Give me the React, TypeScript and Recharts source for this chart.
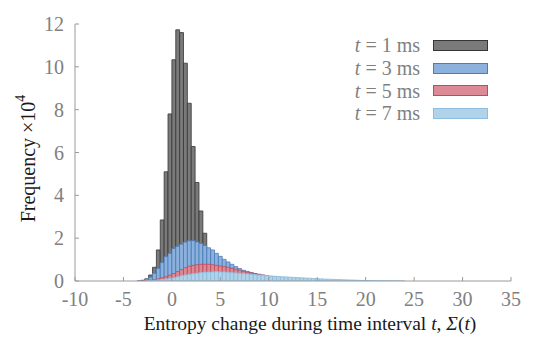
import React from 'react';
import { BarChart, Bar, XAxis, YAxis, Legend, Label } from 'recharts';

const BIN_WIDTH = 0.4;
const BIN_STARTS = [
  -3.6, -3.2, -2.8, -2.4, -2.0, -1.6, -1.2, -0.8, -0.4, 0,
  0.4, 0.8, 1.2, 1.6, 2.0, 2.4, 2.8, 3.2, 3.6, 4.0,
  4.4, 4.8, 5.2, 5.6, 6.0, 6.4, 6.8, 7.2, 7.6, 8.0,
  8.4, 8.8, 9.2, 9.6, 10.0, 10.4, 10.8, 11.2, 11.6, 12.0,
  12.4, 12.8, 13.2, 13.6, 14.0, 14.4, 14.8, 15.2, 15.6, 16.0,
  16.4, 16.8, 17.2, 17.6, 18.0, 18.4, 18.8, 19.2, 19.6, 20.0,
  20.4, 20.8, 21.2, 21.6, 22.0, 22.4, 22.8, 23.2, 23.6,
];

// Frequency (x10^4) per bin, t = 1 ms
const T1 = [
  0, 0.03, 0.1, 0.28, 0.64, 1.45, 2.85, 5.1, 7.8, 10.33,
  11.73, 11.6, 10.17, 8.3, 6.28, 4.6, 3.27, 2.23, 1.45, 0.95,
  0.6, 0.38, 0.23, 0.14, 0.08, 0.05, 0.03, 0.02, 0.01, 0,
  0, 0, 0, 0, 0, 0, 0, 0, 0, 0,
  0, 0, 0, 0, 0, 0, 0, 0, 0, 0,
  0, 0, 0, 0, 0, 0, 0, 0, 0, 0,
  0, 0, 0, 0, 0, 0, 0, 0, 0,
];
// t = 3 ms
const T3 = [
  0.01, 0.03, 0.09, 0.17, 0.36, 0.59, 0.86, 1.14, 1.29, 1.52,
  1.62, 1.72, 1.82, 1.88, 1.88, 1.82, 1.75, 1.66, 1.55, 1.45,
  1.29, 1.15, 1.01, 0.89, 0.78, 0.67, 0.58, 0.5, 0.45, 0.4,
  0.35, 0.31, 0.27, 0.23, 0.2, 0.17, 0.14, 0.12, 0.1, 0.08,
  0.07, 0.06, 0.05, 0.04, 0.03, 0.02, 0.02, 0.01, 0.01, 0,
  0, 0, 0, 0, 0, 0, 0, 0, 0, 0,
  0, 0, 0, 0, 0, 0, 0, 0, 0,
];
// t = 5 ms
const T5 = [
  0, 0.01, 0.02, 0.04, 0.06, 0.1, 0.15, 0.2, 0.27, 0.35,
  0.44, 0.53, 0.62, 0.69, 0.73, 0.76, 0.78, 0.78, 0.78, 0.76,
  0.73, 0.7, 0.67, 0.64, 0.59, 0.55, 0.5, 0.45, 0.41, 0.38,
  0.34, 0.31, 0.28, 0.25, 0.22, 0.2, 0.17, 0.15, 0.13, 0.11,
  0.1, 0.08, 0.07, 0.06, 0.05, 0.04, 0.035, 0.03, 0.025, 0.02,
  0.015, 0.012, 0.01, 0.008, 0.006, 0.005, 0.004, 0.003, 0.002, 0.001,
  0, 0, 0, 0, 0, 0, 0, 0, 0,
];
// t = 7 ms
const T7 = [
  0, 0, 0.01, 0.02, 0.03, 0.05, 0.07, 0.09, 0.12, 0.15,
  0.19, 0.24, 0.28, 0.31, 0.34, 0.36, 0.39, 0.41, 0.42, 0.42,
  0.44, 0.42, 0.42, 0.41, 0.39, 0.38, 0.36, 0.34, 0.33, 0.31,
  0.3, 0.28, 0.27, 0.25, 0.23, 0.22, 0.21, 0.2, 0.19, 0.18,
  0.17, 0.16, 0.15, 0.14, 0.13, 0.12, 0.11, 0.1, 0.09, 0.085,
  0.08, 0.07, 0.065, 0.055, 0.05, 0.045, 0.04, 0.03, 0.025, 0.02,
  0.018, 0.015, 0.013, 0.011, 0.009, 0.007, 0.006, 0.004, 0.003,
];

const X_TICKS = [-10, -5, 0, 5, 10, 15, 20, 25, 30, 35];
const Y_TICKS = [0, 2, 4, 6, 8, 10, 12];
const X_DOMAIN: [number, number] = [-10, 35];
const Y_DOMAIN: [number, number] = [0, 12];

const SERIES = [
  { key: 't1', ms: 1, fill: '#7a7a7a', stroke: '#363636' },
  { key: 't3', ms: 3, fill: '#8db1dd', stroke: '#4a7ebb' },
  { key: 't5', ms: 5, fill: '#dc8a95', stroke: '#c24a5a' },
  { key: 't7', ms: 7, fill: '#b0d3ea', stroke: '#8ebde0' },
];

const data = BIN_STARTS.map((s, i) => ({
  x: Math.round((s + BIN_WIDTH / 2) * 100) / 100,
  t1: T1[i],
  t3: T3[i],
  t5: T5[i],
  t7: T7[i],
}));

const W = 545;
const H = 354;
const MARGIN = { top: 24, right: 34, bottom: 43, left: 30 };
const Y_AXIS_W = 45;
const X_AXIS_H = 30;
const PLOT_W = W - MARGIN.left - MARGIN.right - Y_AXIS_W;
// slightly under the band size so Recharts keeps the exact size (no fallback)
const BAR_SIZE = (BIN_WIDTH * PLOT_W) / (X_DOMAIN[1] - X_DOMAIN[0]) - 0.02;

const FONT = "'Liberation Serif', serif";
const AXIS_COLOR = '#9a9a9a';
const TICK_STYLE = { fill: '#808080', fontSize: 20, fontFamily: FONT };

const renderLegend = () => (
  <div style={{ fontFamily: FONT, fontSize: 20, color: '#808080' }}>
    {SERIES.map((s) => (
      <div
        key={s.key}
        style={{ display: 'flex', alignItems: 'center', height: 22.8, lineHeight: '22.8px' }}
      >
        <div style={{ width: 90, textAlign: 'right', whiteSpace: 'nowrap' }}>
          <i>t</i> = {s.ms} ms
        </div>
        <div
          style={{
            width: 55,
            height: 11,
            marginLeft: 13,
            background: s.fill,
            border: `1px solid ${s.stroke}`,
            boxSizing: 'border-box',
          }}
        />
      </div>
    ))}
  </div>
);

const YLabel = (props: any) => {
  const vb = props.viewBox || {};
  const cx = vb.x - 2;
  const cy = vb.y + vb.height / 2 + 6;
  return (
    <text
      x={cx}
      y={cy}
      transform={`rotate(-90, ${cx}, ${cy})`}
      textAnchor="middle"
      dominantBaseline="central"
      fontFamily={FONT}
      fontSize={20}
      fill="#1a1a1a"
    >
      Frequency ×10<tspan dy={-8} fontSize={14}>4</tspan>
    </text>
  );
};

const XLabel = (props: any) => {
  const vb = props.viewBox || {};
  const cx = vb.x + vb.width / 2 + 17;
  const cy = vb.y + 42;
  return (
    <text
      x={cx}
      y={cy}
      textAnchor="middle"
      dominantBaseline="central"
      fontFamily={FONT}
      fontSize={19.5}
      fill="#1a1a1a"
    >
      Entropy change during time interval <tspan fontStyle="italic">t</tspan>,{' '}
      <tspan fontStyle="italic">Σ</tspan>(<tspan fontStyle="italic">t</tspan>)
    </text>
  );
};

const NoTick = () => <g />;

export default function App() {
  return (
    <div style={{ position: 'absolute', left: 0, top: 0, background: '#fff' }}>
      <BarChart
        width={W}
        height={H}
        data={data}
        margin={MARGIN}
        barSize={BAR_SIZE}
        barGap={-BAR_SIZE}
        barCategoryGap={0}
      >
        <XAxis
          dataKey="x"
          type="number"
          domain={X_DOMAIN}
          ticks={X_TICKS}
          allowDataOverflow
          interval={0}
          height={X_AXIS_H}
          tickSize={-4}
          tickMargin={15}
          stroke={AXIS_COLOR}
          tick={TICK_STYLE}
        >
          <Label content={<XLabel />} />
        </XAxis>
        <XAxis
          xAxisId="top"
          orientation="top"
          dataKey="x"
          type="number"
          domain={X_DOMAIN}
          ticks={X_TICKS}
          allowDataOverflow
          interval={0}
          height={0}
          tickSize={-4}
          stroke={AXIS_COLOR}
          tick={<NoTick />}
        />
        <YAxis
          type="number"
          domain={Y_DOMAIN}
          ticks={Y_TICKS}
          allowDataOverflow
          interval={0}
          width={Y_AXIS_W}
          tickSize={-4}
          tickMargin={15}
          stroke={AXIS_COLOR}
          tick={TICK_STYLE}
        >
          <Label content={<YLabel />} />
        </YAxis>
        <YAxis
          yAxisId="right"
          orientation="right"
          type="number"
          domain={Y_DOMAIN}
          ticks={Y_TICKS}
          allowDataOverflow
          interval={0}
          width={0}
          tickSize={-4}
          stroke={AXIS_COLOR}
          tick={<NoTick />}
        />
        {SERIES.map((s) => (
          <Bar
            key={s.key}
            dataKey={s.key}
            name={`t = ${s.ms} ms`}
            fill={s.fill}
            stroke={s.stroke}
            strokeWidth={0.8}
            isAnimationActive={false}
          />
        ))}
        <Legend
          layout="vertical"
          align="center"
          verticalAlign="middle"
          content={renderLegend}
          wrapperStyle={{ left: 330, top: 34, width: 170, height: 92 }}
        />
      </BarChart>
    </div>
  );
}
